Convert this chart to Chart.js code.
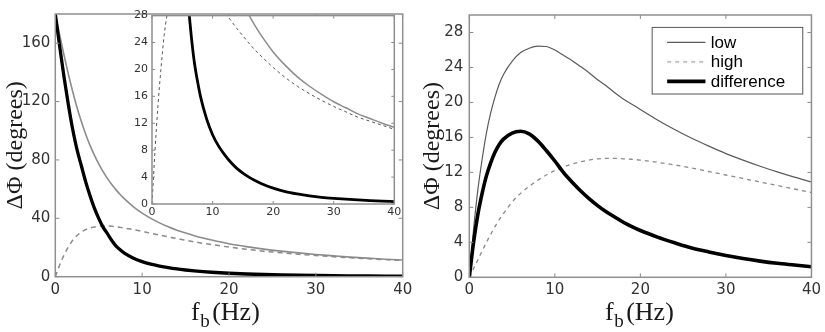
<!DOCTYPE html>
<html><head><meta charset="utf-8">
<script src="https://cdn.jsdelivr.net/npm/chart.js@4.4.1/dist/chart.umd.min.js"></script>
<style>
html,body{margin:0;padding:0;background:#fff;width:825px;height:332px;overflow:hidden}
canvas{position:absolute}
#cL{left:0;top:0}
#cI{left:130px;top:5px}
#cR{left:417px;top:0}
</style></head><body>
<canvas id="cL" width="420" height="332"></canvas>
<canvas id="cI" width="275" height="220"></canvas>
<canvas id="cR" width="408" height="332"></canvas>
<script>
// ---------- data ----------
const seriesNames = ['low', 'high', 'difference'];
const fLeft     = [0, 0.5, 1, 1.5, 2, 2.5, 3, 3.5, 4, 4.5, 5, 5.5, 6, 6.5, 7, 7.5, 8, 9, 10, 11, 12, 13, 14, 15, 16, 17, 18, 20, 22, 24, 26, 28, 30, 32, 34, 36, 38, 40];
const lowLeft   = [180, 165.8, 151.9, 138.9, 126.9, 116.0, 106.3, 97.6, 90.0, 83.3, 77.3, 72.0, 67.4, 63.2, 59.5, 56.1, 53.1, 47.9, 43.6, 40.0, 36.9, 34.2, 31.9, 29.9, 28.1, 26.5, 25.1, 22.6, 20.6, 18.9, 17.5, 16.3, 15.2, 14.3, 13.4, 12.7, 12.0, 11.4];
const highLeft  = [0, 8.0, 14.8, 20.3, 25.0, 28.2, 30.6, 32.3, 33.4, 34.1, 34.5, 34.7, 34.7, 34.5, 34.2, 33.8, 33.3, 32.2, 31.0, 29.8, 28.5, 27.3, 26.1, 25.0, 23.9, 22.9, 22.0, 20.3, 18.8, 17.5, 16.4, 15.4, 14.5, 13.7, 12.9, 12.3, 11.7, 11.1];
const diffLeft  = [180, 158, 137, 118, 101, 87, 76, 65, 55.5, 47, 40, 34, 29.5, 24.8, 21.0, 18.3, 16.0, 12.7, 10.3, 8.6, 7.3, 6.2, 5.3, 4.6, 4.0, 3.5, 3.05, 2.35, 1.85, 1.5, 1.22, 1.0, 0.84, 0.71, 0.6, 0.5, 0.42, 0.36];

const fRight    = [0, 0.5, 1, 1.5, 2, 2.5, 3, 3.5, 4, 5, 6, 7, 8, 9, 10, 11, 12, 13, 14, 15, 16, 17, 18, 19, 20, 22, 24, 26, 28, 30, 32, 34, 36, 38, 40];
const lowRight  = [0, 5.5, 10.0, 13.5, 16.5, 18.8, 20.6, 22.1, 23.2, 24.7, 25.7, 26.2, 26.45, 26.4, 26.0, 25.4, 24.8, 24.1, 23.4, 22.6, 21.9, 21.1, 20.4, 19.8, 19.2, 18.0, 16.9, 15.9, 15.0, 14.15, 13.4, 12.7, 12.05, 11.45, 10.9];
const highRight = [0, 1.0, 2.0, 3.0, 4.0, 4.9, 5.8, 6.6, 7.3, 8.6, 9.6, 10.4, 11.1, 11.7, 12.2, 12.6, 12.95, 13.2, 13.4, 13.55, 13.6, 13.6, 13.55, 13.5, 13.4, 13.15, 12.85, 12.5, 12.1, 11.7, 11.3, 10.9, 10.5, 10.1, 9.7];
const diffRight = [0, 4.0, 7.2, 9.6, 11.6, 13.1, 14.3, 15.2, 15.8, 16.5, 16.7, 16.4, 15.6, 14.5, 13.3, 12.0, 10.9, 9.9, 9.0, 8.2, 7.5, 6.9, 6.3, 5.8, 5.35, 4.6, 3.95, 3.35, 2.9, 2.5, 2.15, 1.85, 1.6, 1.4, 1.2];

const xTicks      = [0, 10, 20, 30, 40];
const yTicksLeft  = [0, 40, 80, 120, 160];
const yTicksInset = [0, 4, 8, 12, 16, 20, 24, 28];
const yTicksRight = [0, 4, 8, 12, 16, 20, 24, 28];
const yTitle = 'ΔΦ (degrees)';
const xTitleMain = 'f', xTitleSub = 'b', xTitleUnit = '(Hz)';

// ---------- helpers ----------
function pts(xs, ys) { return xs.map((x, i) => ({x: x, y: ys[i]})); }

function framePlugin(cfg) {
  return {
    id: 'frame',
    beforeDraw(chart) {
      if (!cfg.fill) return;
      const a = chart.chartArea, ctx = chart.ctx;
      ctx.save(); ctx.fillStyle = '#fff';
      ctx.fillRect(a.left, a.top, a.right - a.left, a.bottom - a.top);
      ctx.restore();
    },
    afterDatasetsDraw(chart) {
      const a = chart.chartArea, ctx = chart.ctx;
      const xs = chart.scales.x, ys = chart.scales.y;
      ctx.save();
      ctx.strokeStyle = '#8a8a8a'; ctx.lineWidth = 1;
      ctx.beginPath();
      xs.ticks.forEach(t => {
        const p = xs.getPixelForValue(t.value);
        ctx.moveTo(p, a.bottom); ctx.lineTo(p, a.bottom - cfg.tick);
        ctx.moveTo(p, a.top); ctx.lineTo(p, a.top + cfg.tick);
      });
      ys.ticks.forEach(t => {
        const p = ys.getPixelForValue(t.value);
        ctx.moveTo(a.left, p); ctx.lineTo(a.left + cfg.tick, p);
        ctx.moveTo(a.right, p); ctx.lineTo(a.right - cfg.tick, p);
      });
      ctx.stroke();
      ctx.strokeStyle = '#8f8f8f'; ctx.lineWidth = cfg.frame;
      ctx.strokeRect(a.left, a.top, a.right - a.left, a.bottom - a.top);
      ctx.restore();
    }
  };
}

function xTitlePlugin(dx, baseline) {
  return {
    id: 'xtitle',
    afterDraw(chart) {
      const ctx = chart.ctx, a = chart.chartArea;
      ctx.save();
      ctx.fillStyle = '#1a1a1a'; ctx.textBaseline = 'alphabetic'; ctx.textAlign = 'left';
      let x = a.left + dx;
      ctx.font = '26px "Liberation Serif"';
      ctx.fillText(xTitleMain, x, baseline);
      x += ctx.measureText(xTitleMain).width + 0.5;
      ctx.font = '19px "Liberation Serif"';
      ctx.fillText(xTitleSub, x, baseline + 7);
      x += ctx.measureText(xTitleSub).width + 2.5;
      ctx.font = '26px "Liberation Serif"';
      ctx.fillText(xTitleUnit, x, baseline);
      ctx.restore();
    }
  };
}

function legendPlugin() {
  return {
    id: 'lg',
    afterDraw(chart) {
      const a = chart.chartArea, ctx = chart.ctx;
      const bw = 150.6, bh = 66.6;
      const bx = a.right - 8.7 - bw, by = a.top + 12.4;
      ctx.save();
      ctx.fillStyle = '#fff'; ctx.fillRect(bx, by, bw, bh);
      ctx.strokeStyle = '#555'; ctx.lineWidth = 1; ctx.strokeRect(bx, by, bw, bh);
      chart.data.datasets.forEach((ds, i) => {
        const y = by + 15 + i * 19.5;
        ctx.strokeStyle = ds.legendColor || ds.borderColor;
        ctx.lineWidth = ds.borderWidth;
        ctx.setLineDash(ds.borderDash || []);
        ctx.beginPath(); ctx.moveTo(bx + 15, y); ctx.lineTo(bx + 53.3, y); ctx.stroke();
        ctx.setLineDash([]);
        ctx.fillStyle = '#000'; ctx.font = '17px "Liberation Sans"';
        ctx.textBaseline = 'middle'; ctx.textAlign = 'left';
        ctx.fillText(ds.label, bx + 58.6, y + 0.5);
      });
      ctx.restore();
    }
  };
}

function makeSets(fs, low, high, diff, st) {
  return [
    {label: seriesNames[0], data: pts(fs, low), showLine: true, pointRadius: 0, borderColor: st.lowColor, borderWidth: st.lowW, cubicInterpolationMode: 'monotone', clip: 0, order: 2},
    {label: seriesNames[1], data: pts(fs, high), showLine: true, pointRadius: 0, borderColor: st.highColor, legendColor: '#a8a8a8', borderWidth: st.highW, borderDash: st.dash, cubicInterpolationMode: 'monotone', clip: 0, order: 1},
    {label: seriesNames[2], data: pts(fs, diff), showLine: true, pointRadius: 0, borderColor: '#000', borderWidth: st.diffW, cubicInterpolationMode: 'monotone', clip: 0, order: 0}
  ];
}

function makeChart(id, sets, o) {
  return new Chart(document.getElementById(id), {
    type: 'scatter',
    data: {datasets: sets},
    options: {
      responsive: false, animation: false, devicePixelRatio: 1,
      layout: {padding: {top: o.top, right: o.right, left: 0, bottom: 0}},
      plugins: {legend: {display: false}, tooltip: {enabled: false}},
      scales: {
        x: {
          type: 'linear', min: 0, max: 40,
          afterBuildTicks: s => { s.ticks = xTicks.map(v => ({value: v})); },
          afterFit: s => { s.height = o.bottom; },
          grid: {display: false, drawTicks: false}, border: {display: false},
          ticks: {padding: o.xPad, color: '#333', font: {family: 'DejaVu Sans', size: o.font}}
        },
        y: {
          type: 'linear', min: 0, max: o.ymax,
          afterBuildTicks: s => { s.ticks = o.yTicks.map(v => ({value: v})); },
          afterFit: s => { s.width = o.left; },
          grid: {display: false, drawTicks: false}, border: {display: false},
          ticks: {padding: o.yPad, color: '#333', font: {family: 'DejaVu Sans', size: o.font}},
          title: o.title ? {display: true, text: yTitle, color: '#1a1a1a', font: {family: 'Liberation Serif', size: 24}, padding: {top: 1, bottom: 0}} : {display: false}
        }
      }
    },
    plugins: o.plugins
  });
}

// ---------- left main panel ----------
makeChart('cL',
  makeSets(fLeft, lowLeft, highLeft, diffLeft, {lowColor: '#8c8c8c', lowW: 1.6, highColor: '#8a8a8a', highW: 1.5, dash: [5, 4], diffW: 3.3}),
  {top: 9, right: 17.3, bottom: 55.3, left: 55.3, ymax: 180, yTicks: yTicksLeft, font: 15, xPad: 4, yPad: 5, title: true,
   plugins: [framePlugin({fill: false, tick: 4, frame: 1.5}), xTitlePlugin(135.7, 320)]});

// ---------- inset (zoom of left panel) ----------
makeChart('cI',
  makeSets(fLeft, lowLeft, highLeft, diffLeft, {lowColor: '#8c8c8c', lowW: 1.5, highColor: '#555', highW: 1, dash: [3, 3], diffW: 2.8}),
  {top: 10, right: 10.7, bottom: 21, left: 22, ymax: 28, yTicks: yTicksInset, font: 11, xPad: 2, yPad: 4, title: false,
   plugins: [framePlugin({fill: true, tick: 3, frame: 1.5})]});

// ---------- right panel ----------
makeChart('cR',
  makeSets(fRight, lowRight, highRight, diffRight, {lowColor: '#5a5a5a', lowW: 1.2, highColor: '#8a8a8a', highW: 1.3, dash: [4, 4], diffW: 3.6}),
  {top: 9.3, right: 9, bottom: 54.7, left: 52.3, ymax: 30, yTicks: yTicksRight, font: 15, xPad: 4, yPad: 6, title: true,
   plugins: [framePlugin({fill: false, tick: 4, frame: 1.5}), xTitlePlugin(135.7, 320), legendPlugin()]});
</script>
</body></html>
